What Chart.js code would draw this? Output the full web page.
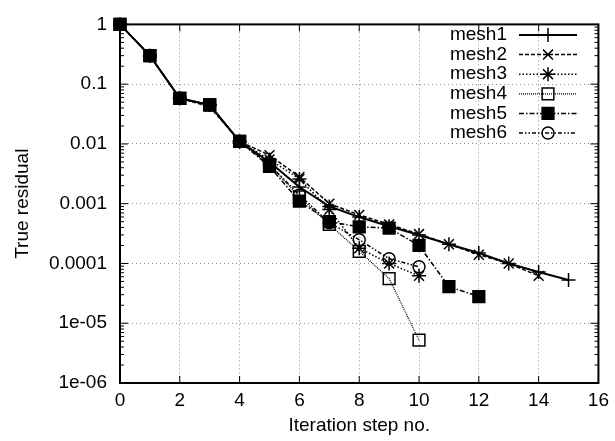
<!DOCTYPE html>
<html>
<head>
<meta charset="utf-8">
<script src="https://cdn.jsdelivr.net/npm/chart.js@4/dist/chart.umd.min.js"></script>
<style>
  html, body { margin: 0; padding: 0; background: #fff; }
  #wrap { width: 615px; height: 441px; }
</style>
</head>
<body>
<div id="wrap"><canvas id="myChart" width="615" height="441"></canvas></div>
<script>
// iteration steps (x)
var steps = [0, 1, 2, 3, 4, 5, 6, 7, 8, 9, 10, 11, 12, 13, 14, 15];

// true residual per mesh
var mesh1 = [1, 0.3, 0.058, 0.045, 0.011, 0.005, 0.0019, 0.0009, 0.0006, 0.00042, 0.0003, 0.00021, 0.00015, 0.0001, 0.000072, 0.000053];
var mesh2 = [1, 0.3, 0.058, 0.042, 0.011, 0.0065, 0.0028, 0.001, 0.00065, 0.00045, 0.00031, 0.00021, 0.00014, 0.0001, 0.000062];
var mesh3 = [1, 0.3, 0.058, 0.045, 0.011, 0.0055, 0.0026, 0.0008, 0.00018, 0.0001, 0.000062];
var mesh4 = [1, 0.3, 0.058, 0.045, 0.011, 0.0045, 0.0013, 0.00045, 0.00016, 0.000056, 0.0000052];
var mesh5 = [1, 0.3, 0.058, 0.045, 0.011, 0.0042, 0.0011, 0.0005, 0.00041, 0.00039, 0.0002, 0.000041, 0.000028];
var mesh6 = [1, 0.3, 0.058, 0.045, 0.011, 0.0045, 0.0014, 0.00048, 0.00025, 0.00012, 0.000088];

var xTicks = [0, 2, 4, 6, 8, 10, 12, 14, 16];
var yTickValues = [1, 0.1, 0.01, 0.001, 0.0001, 0.00001, 0.000001];
var yTickLabels = ['1', '0.1', '0.01', '0.001', '0.0001', '1e-05', '1e-06'];

function pts(vals) {
    return vals.map(function (v, i) { return { x: steps[i], y: v }; });
}

var FONT = 'Liberation Sans, Arial, Helvetica, sans-serif';
var FSIZE = 19;

// gnuplot-like inside ticks and frame
var frameTicks = {
    id: 'frameTicks',
    beforeDatasetsDraw: function (chart) {
        var ctx = chart.ctx, a = chart.chartArea, x = chart.scales.x, y = chart.scales.y;
        ctx.save();
        ctx.strokeStyle = '#000';
        ctx.lineWidth = 1;
        ctx.beginPath();
        xTicks.forEach(function (v) {
            var px = x.getPixelForValue(v);
            ctx.moveTo(px, a.bottom); ctx.lineTo(px, a.bottom - 7);
            ctx.moveTo(px, a.top); ctx.lineTo(px, a.top + 7);
        });
        for (var k = -6; k <= 0; k++) {
            var py = y.getPixelForValue(Math.pow(10, k));
            ctx.moveTo(a.left, py); ctx.lineTo(a.left + 8, py);
            ctx.moveTo(a.right, py); ctx.lineTo(a.right - 8, py);
            if (k < 0) {
                for (var m = 2; m <= 9; m++) {
                    var pm = y.getPixelForValue(m * Math.pow(10, k));
                    ctx.moveTo(a.left, pm); ctx.lineTo(a.left + 4, pm);
                    ctx.moveTo(a.right, pm); ctx.lineTo(a.right - 4, pm);
                }
            }
        }
        ctx.stroke();
        ctx.lineWidth = 2;
        ctx.strokeRect(a.left, a.top, a.right - a.left, a.bottom - a.top);
        ctx.restore();
    }
};

// key in top right corner: label, then line sample with marker
var gnuKey = {
    id: 'gnuKey',
    afterDraw: function (chart) {
        var ctx = chart.ctx;
        var textRight = 507, lineL = 519, lineR = 577, top = 35, step = 19.6;
        ctx.save();
        ctx.font = FSIZE + 'px ' + FONT;
        ctx.textAlign = 'right';
        ctx.textBaseline = 'middle';
        chart.data.datasets.forEach(function (ds, i) {
            var yy = top + i * step;
            ctx.fillStyle = '#000';
            ctx.fillText(ds.label, textRight, yy);
            ctx.strokeStyle = '#000';
            ctx.lineWidth = ds.borderWidth;
            ctx.setLineDash(ds.borderDash || []);
            ctx.beginPath();
            ctx.moveTo(lineL, yy); ctx.lineTo(lineR, yy);
            ctx.stroke();
            ctx.setLineDash([]);
            ctx.fillStyle = ds.pointBackgroundColor;
            ctx.lineWidth = ds.pointBorderWidth;
            if (Chart.helpers && Chart.helpers.drawPoint) {
                Chart.helpers.drawPoint(ctx, {
                    pointStyle: ds.pointStyle, radius: ds.pointRadius,
                    rotation: 0, borderWidth: ds.pointBorderWidth
                }, (lineL + lineR) / 2, yy);
            }
        });
        ctx.restore();
    }
};

function series(label, vals, dash, style, radius, fill, width) {
    return {
        label: label,
        data: pts(vals),
        borderColor: '#000',
        borderWidth: width,
        borderDash: dash,
        pointStyle: style,
        pointRadius: radius,
        pointBorderWidth: 1.5,
        pointBorderColor: '#000',
        pointBackgroundColor: fill,
        fill: false,
        tension: 0,
        clip: false
    };
}

var ctx = document.getElementById('myChart');
var myChart = new Chart(ctx, {
    type: 'line',
    data: {
        datasets: [
            series('mesh1', mesh1, [], 'cross', 7, '#000', 2),
            series('mesh2', mesh2, [4, 2], 'crossRot', 7, '#000', 1.5),
            series('mesh3', mesh3, [1.5, 2], 'star', 7, '#000', 1.5),
            series('mesh4', mesh4, [1, 1], 'rect', 8.3, 'rgba(0,0,0,0)', 1.2),
            series('mesh5', mesh5, [5, 2, 1.5, 2], 'rect', 8.3, '#000', 1.5),
            series('mesh6', mesh6, [4, 2, 1.5, 2, 1.5, 2], 'circle', 6, 'rgba(0,0,0,0)', 1.5)
        ]
    },
    options: {
        responsive: false,
        animation: false,
        layout: { padding: { top: 20, right: 15, left: 0, bottom: 0 } },
        plugins: {
            legend: { display: false },
            tooltip: { enabled: false }
        },
        scales: {
            x: {
                type: 'linear',
                min: 0,
                max: 16,
                afterFit: function (s) { s.height = 58; },
                afterBuildTicks: function (s) { s.ticks = xTicks.map(function (v) { return { value: v }; }); },
                ticks: { color: '#000', padding: 6, font: { size: FSIZE, family: FONT } },
                grid: { color: '#888', lineWidth: 1, drawTicks: false },
                border: { display: false, dash: [1, 3] },
                title: {
                    display: true, text: 'Iteration step no.', color: '#000',
                    font: { size: FSIZE, family: FONT }, padding: { top: 0, bottom: 4 }
                }
            },
            y: {
                type: 'logarithmic',
                min: 0.000001,
                max: 1,
                afterFit: function (s) { s.width = 120; },
                afterBuildTicks: function (s) { s.ticks = yTickValues.map(function (v) { return { value: v }; }); },
                ticks: {
                    color: '#000', padding: 13, font: { size: FSIZE, family: FONT },
                    callback: function (v) {
                        var i = yTickValues.indexOf(v);
                        return i >= 0 ? yTickLabels[i] : '';
                    }
                },
                grid: { color: '#888', lineWidth: 1, drawTicks: false },
                border: { display: false, dash: [1, 3] },
                title: {
                    display: true, text: 'True residual', color: '#000',
                    font: { size: FSIZE, family: FONT }, padding: { top: 11, bottom: 0 }
                }
            }
        }
    },
    plugins: [frameTicks, gnuKey]
});
</script>
</body>
</html>
